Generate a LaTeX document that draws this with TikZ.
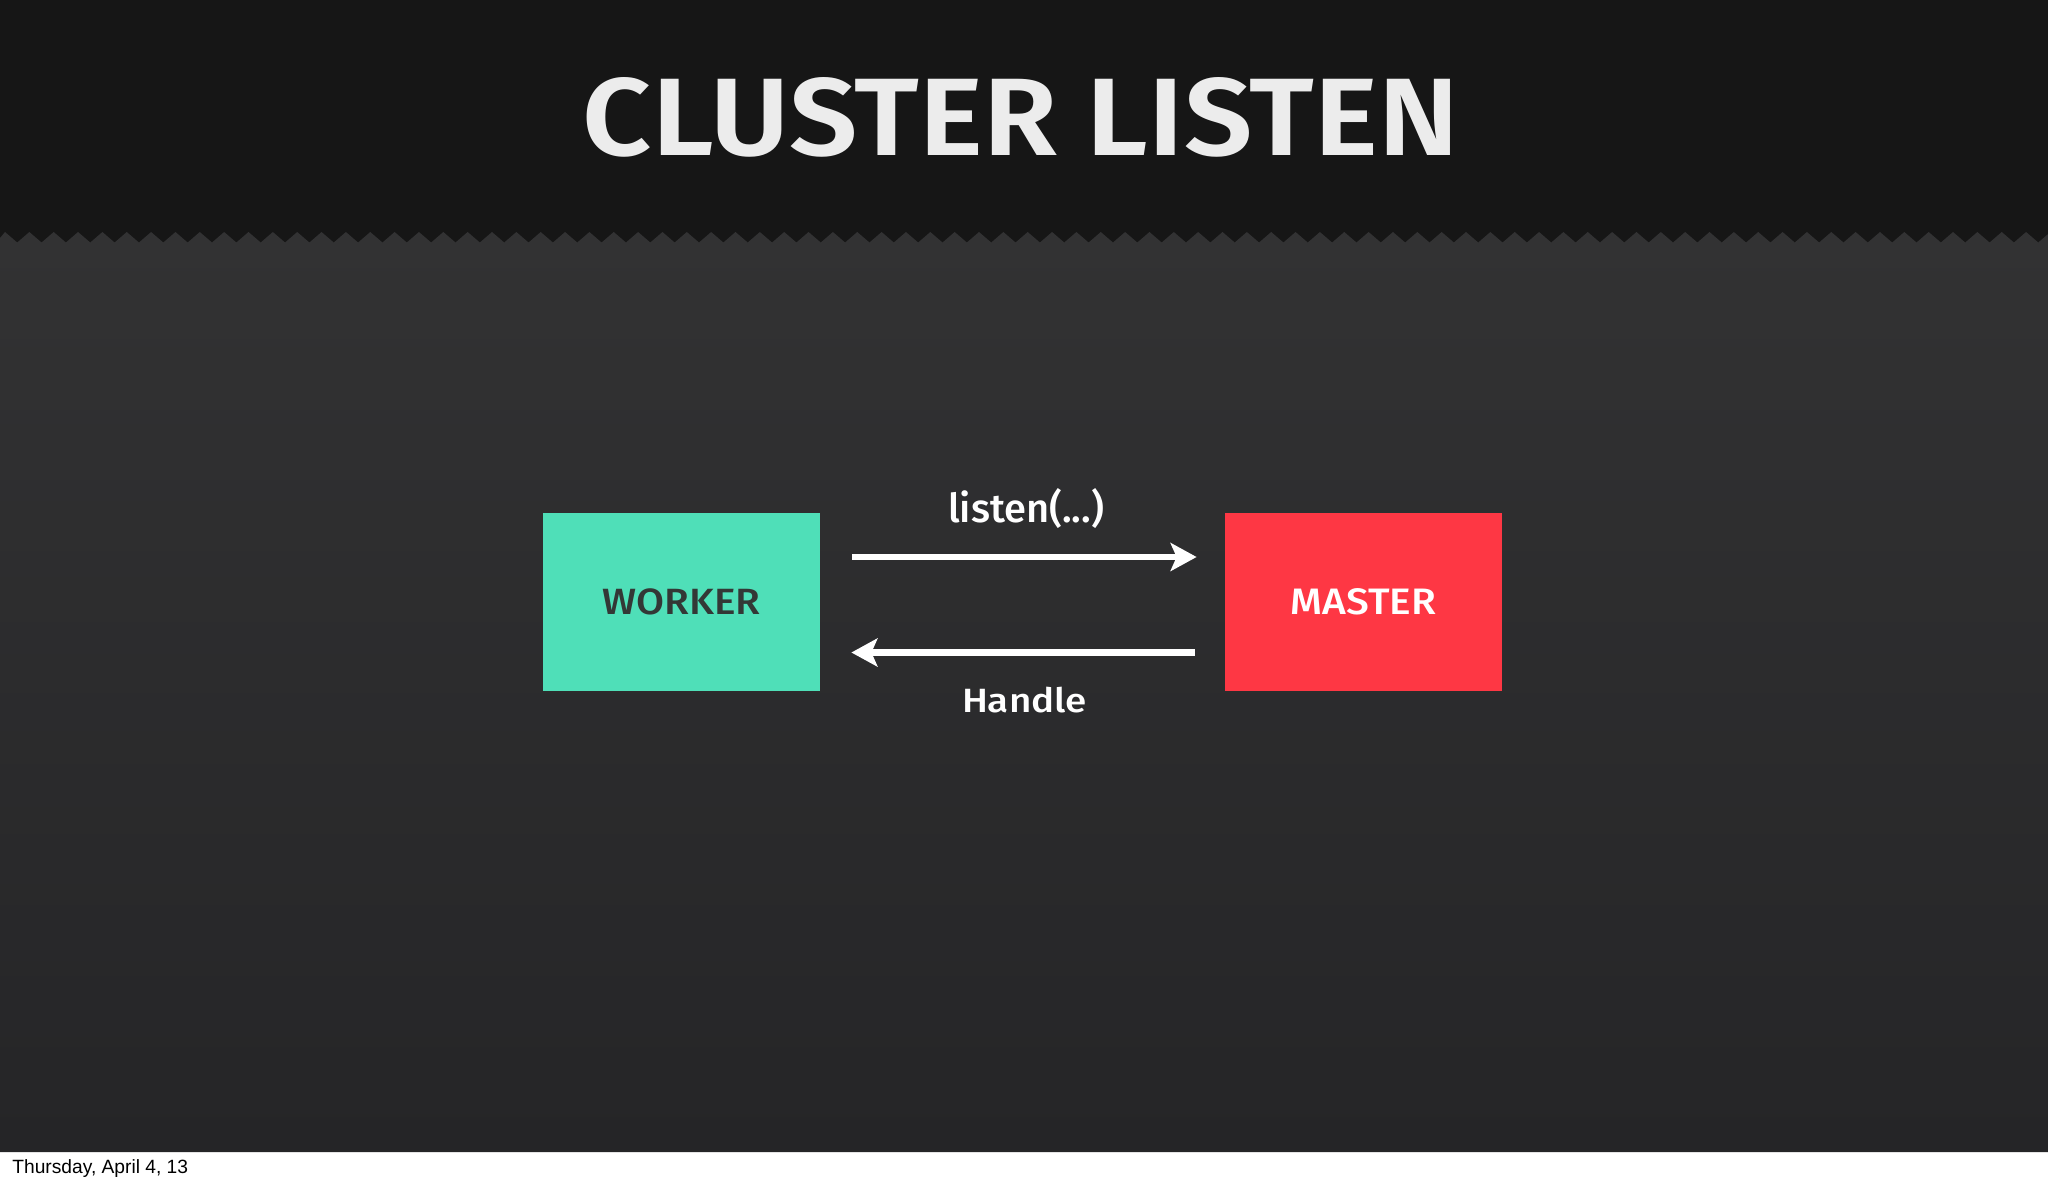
\documentclass[tikz,border=0pt]{standalone}
\usepackage{fontspec}
\setmainfont{Fira Sans}
\newfontfamily\medfont{Fira Sans Medium}
\newfontfamily\semifont{Fira Sans SemiBold}
\newfontfamily\footfont{Liberation Sans}
\usetikzlibrary{arrows.meta,calc}
\definecolor{headbg}{HTML}{161616}
\definecolor{bodytop}{HTML}{323233}
\definecolor{bodybot}{HTML}{252527}
\definecolor{workerc}{HTML}{4FDFB8}
\definecolor{masterc}{HTML}{FE3744}
\definecolor{titlec}{HTML}{ECECEC}
\definecolor{darktext}{HTML}{333836}
\tikzset{
  box/.style={draw=none, minimum width=138.5pt, minimum height=89pt, inner sep=0pt},
  lbl/.style={inner sep=0pt, text=white},
  arr/.style={draw=white, line width=3.2pt, -{Stealth[length=13pt,width=14pt,inset=3pt]}},
}
\begin{document}
\begin{tikzpicture}[x=0.5pt,y=-0.5pt]
\clip (0,0) rectangle (2048,1184);
% backgrounds
\fill[white] (0,0) rectangle (2048,1184);
\fill[headbg] (0,0) rectangle (2048,1152);
\shade[top color=bodytop, bottom color=bodybot]
  (0,1152) -- (0,238) \foreach \i in {0,...,84} { -- (\i*24.35+5,232) -- (\i*24.35+17.2,242.5) } -- (2048,238) -- (2048,1152) -- cycle;
% title
\node[lbl, text=titlec] (title) at (1021,117.5) {\resizebox{438pt}{39pt}{\semifont CLUSTER LISTEN}};
% boxes
\node[box, fill=workerc] (worker) at (681.5,602) {\resizebox{79pt}{12.9pt}{\medfont\color{darktext}WORKER}};
\node[box, fill=masterc] (master) at (1363.5,602) {\resizebox{72.75pt}{13pt}{\medfont\color{white}MASTER}};
% arrows
\draw[arr] ($(worker.east)+(32,-45)$) -- ($(master.west)+(-28,-45)$);
\draw[arr] ($(master.west)+(-30,50.5)$) -- ($(worker.east)+(31,50.5)$);
% labels
\node[lbl, anchor=base] (listen) at (1026,522.5) {\resizebox{78pt}{!}{\medfont listen(...)}};
\node[lbl] (handle) at (1024.5,700) {\resizebox{62.5pt}{12.7pt}{\medfont Handle}};
% footer
\node[inner sep=0pt, anchor=base west, text=black] (date) at (12,1173) {\footfont\fontsize{9.6pt}{11pt}\selectfont Thursday, April 4, 13};
\end{tikzpicture}
\end{document}
